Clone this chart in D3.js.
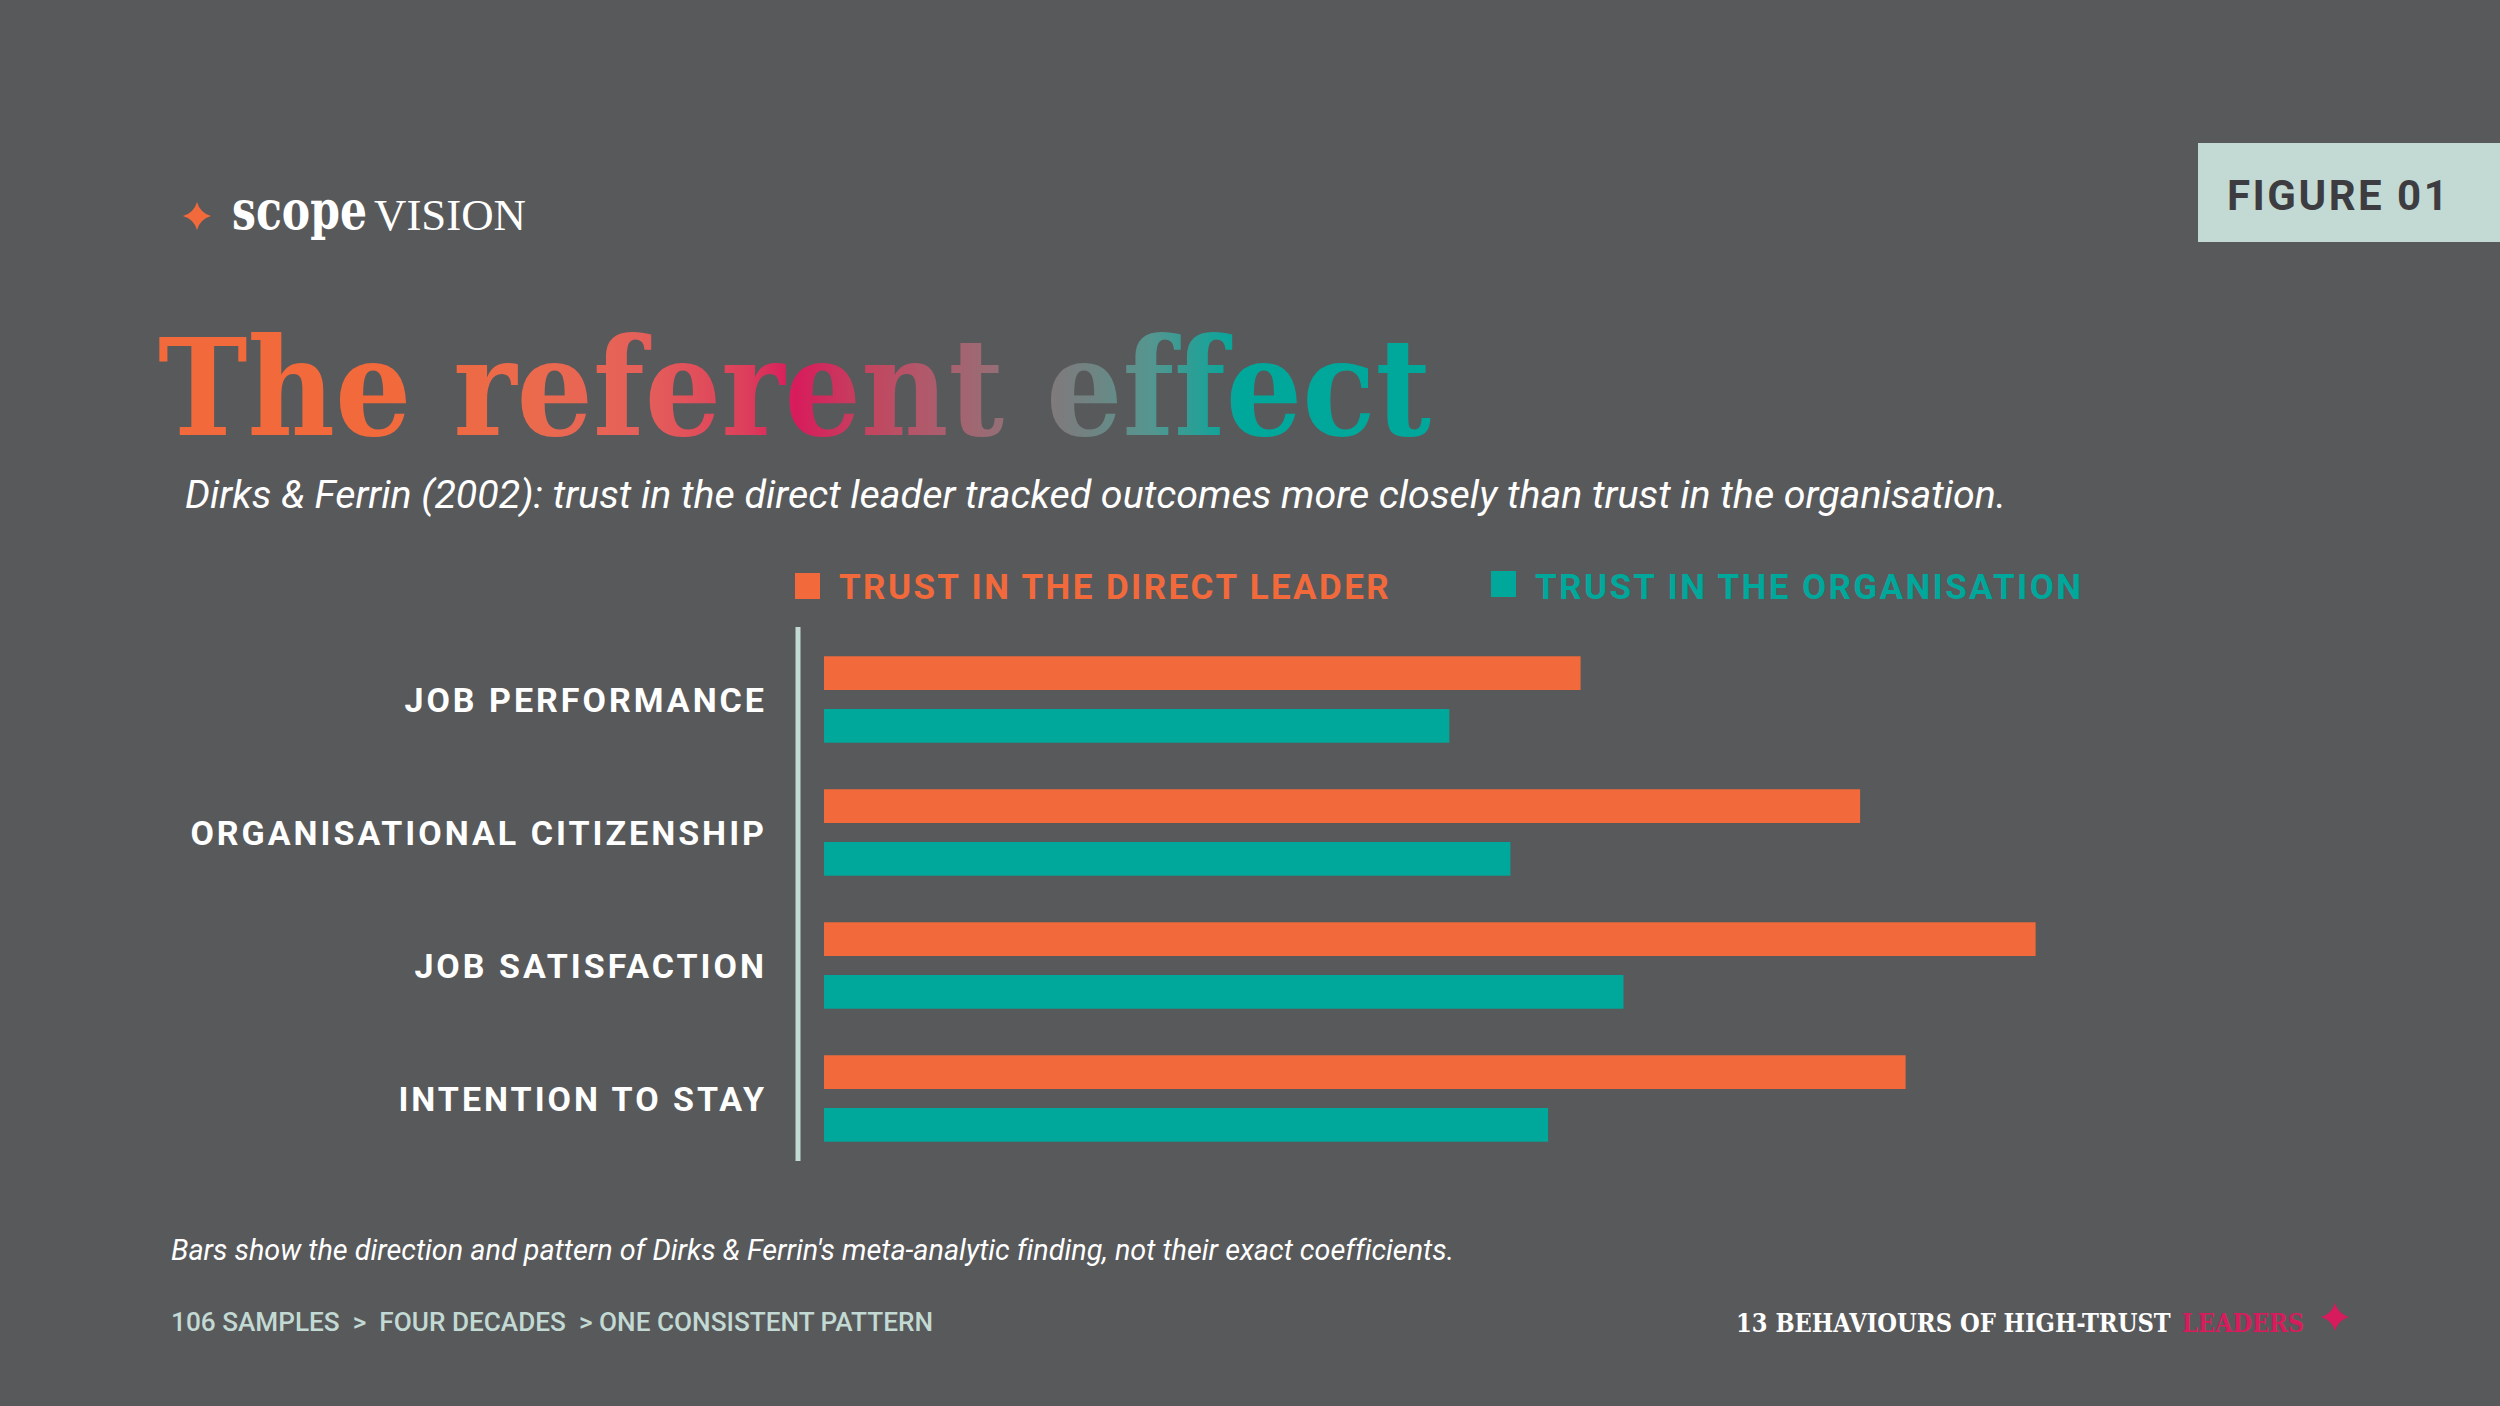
<!DOCTYPE html>
<html>
<head>
<meta charset="utf-8">
<script src="https://cdn.jsdelivr.net/npm/d3@7"></script>
<style>
  body { margin: 0; background: #58595b; }
  svg { display: block; }
  text { font-variant-ligatures: none; }
</style>
</head>
<body>
<div id="root"></div>
<script>
// chart values
const categories = [
  "JOB PERFORMANCE",
  "ORGANISATIONAL CITIZENSHIP",
  "JOB SATISFACTION",
  "INTENTION TO STAY",
];
const seriesKeys = ["leader", "org"];
const seriesNames = ["TRUST IN THE DIRECT LEADER", "TRUST IN THE ORGANISATION"];
const leaderValues = [58.2, 79.7, 93.2, 83.2];
const orgValues = [48.1, 52.8, 61.5, 55.7];

const width = 2500;
const height = 1406;
const orange = "#f26a3b";
const teal = "#00a89c";
const crimson = "#d81b5c";
const mint = "#c3dad4";
const colors = { leader: orange, org: teal };

const data = categories.map((c, i) => ({
  category: c,
  leader: leaderValues[i],
  org: orgValues[i],
}));

const svg = d3
  .select("#root")
  .append("svg")
  .attr("width", width)
  .attr("height", height)
  .attr("viewBox", `0 0 ${width} ${height}`);

svg.append("rect").attr("width", width).attr("height", height).attr("fill", "#58595b");

// squeeze a text horizontally so it spans the given width
function fit(sel, x, y, target) {
  const w = sel.node().getComputedTextLength();
  sel.attr("x", 0).attr("y", 0)
    .attr("transform", `translate(${x}, ${y}) scale(${target / w}, 1)`);
  return sel;
}

// 4-point sparkle
function sparkle(cx, cy, r) {
  const k = r * 0.22;
  return `M${cx},${cy - r}Q${cx + k},${cy - k} ${cx + r},${cy}` +
    `Q${cx + k},${cy + k} ${cx},${cy + r}` +
    `Q${cx - k},${cy + k} ${cx - r},${cy}` +
    `Q${cx - k},${cy - k} ${cx},${cy - r}Z`;
}

// logo
svg.append("path").attr("d", sparkle(197, 216, 14)).attr("fill", orange);
fit(svg.append("text")
  .text("scope")
  .attr("font-family", "'DejaVu Serif', serif")
  .attr("font-weight", 700)
  .attr("font-size", 54)
  .attr("fill", "#ffffff"), 232, 229, 135);
fit(svg.append("text")
  .text("VISION")
  .attr("font-family", "'Liberation Serif', serif")
  .attr("font-size", 44)
  .attr("fill", "#ffffff"), 374, 230, 152);

// figure tag
svg.append("rect")
  .attr("x", 2198).attr("y", 143)
  .attr("width", 302).attr("height", 99)
  .attr("fill", mint);
svg.append("text")
  .text("FIGURE 01")
  .attr("x", 2227).attr("y", 210)
  .attr("font-family", "Roboto, sans-serif")
  .attr("font-weight", 700)
  .attr("font-size", 42)
  .attr("letter-spacing", 2.5)
  .attr("fill", "#3d3d41");

// title with gradient
const defs = svg.append("defs");
const grad = defs.append("linearGradient")
  .attr("id", "titleGrad")
  .attr("gradientUnits", "userSpaceOnUse")
  .attr("x1", 158).attr("x2", 1431)
  .attr("y1", 0).attr("y2", 0);
[
  [0, orange], [0.18, orange], [0.3, "#ea6a4e"], [0.38, "#e5605a"],
  [0.46, "#dd405b"], [0.5, crimson], [0.56, "#c2465f"], [0.6, "#b2586b"],
  [0.65, "#9b6b74"], [0.72, "#777f7f"], [0.78, "#559690"], [0.85, teal], [1, teal],
].forEach(([o, c]) => grad.append("stop").attr("offset", o).attr("stop-color", c));

svg.append("text")
  .text("The referent effect")
  .attr("x", 158).attr("y", 435)
  .attr("font-family", "'DejaVu Serif Condensed', 'DejaVu Serif', serif")
  .attr("font-weight", 700)
  .attr("font-size", 134)
  .attr("textLength", 1273)
  .attr("lengthAdjust", "spacingAndGlyphs")
  .attr("fill", "url(#titleGrad)");

svg.append("text")
  .text("Dirks & Ferrin (2002): trust in the direct leader tracked outcomes more closely than trust in the organisation.")
  .attr("x", 185).attr("y", 508)
  .attr("font-family", "Roboto, sans-serif")
  .attr("font-style", "italic")
  .attr("font-size", 39)
  .attr("textLength", 1821)
  .attr("lengthAdjust", "spacingAndGlyphs")
  .attr("fill", "#ffffff");

// legend
const legendX = [795, 1491];
const legend = svg.selectAll("g.legend")
  .data(seriesKeys)
  .join("g")
  .attr("class", "legend")
  .attr("transform", (d, i) => `translate(${legendX[i]}, 573)`);
legend.append("rect")
  .attr("width", 25).attr("height", 26)
  .attr("y", (d, i) => -i * 2)
  .attr("fill", (d) => colors[d]);
legend.append("text")
  .text((d, i) => seriesNames[i])
  .attr("x", 44).attr("y", 26)
  .attr("font-family", "Roboto, sans-serif")
  .attr("font-weight", 700)
  .attr("font-size", 35)
  .attr("letter-spacing", 2.4)
  .attr("fill", (d) => colors[d]);

// scales
const xScale = d3.scaleLinear().domain([0, 100]).range([824, 2124]);
const yScale = d3.scaleBand()
  .domain(categories)
  .range([633, 1165])
  .paddingInner(0.35)
  .paddingOuter(0.175);
const ySub = d3.scaleBand()
  .domain(seriesKeys)
  .range([0, yScale.bandwidth()])
  .paddingInner(0.36);

// bars
const groups = svg.selectAll("g.group")
  .data(data)
  .join("g")
  .attr("class", "group")
  .attr("transform", (d) => `translate(0, ${yScale(d.category)})`);
groups.selectAll("rect")
  .data((d) => seriesKeys.map((k) => ({ key: k, value: d[k] })))
  .join("rect")
  .attr("x", xScale(0))
  .attr("y", (d) => ySub(d.key))
  .attr("width", (d) => xScale(d.value) - xScale(0))
  .attr("height", ySub.bandwidth())
  .attr("fill", (d) => colors[d.key]);

// category axis
const axis = svg.append("g")
  .attr("transform", "translate(798, 0)")
  .call(d3.axisLeft(yScale).tickSize(0).tickPadding(31));
axis.select(".domain").remove();
axis.selectAll("text")
  .attr("font-family", "Roboto, sans-serif")
  .attr("font-weight", 700)
  .attr("font-size", 34)
  .attr("letter-spacing", 3)
  .attr("fill", "#ffffff")
  .attr("dy", "0.36em");
svg.append("line")
  .attr("x1", 798).attr("x2", 798)
  .attr("y1", 627).attr("y2", 1161)
  .attr("stroke", mint)
  .attr("stroke-width", 5);

// footnotes
svg.append("text")
  .text("Bars show the direction and pattern of Dirks & Ferrin's meta-analytic finding, not their exact coefficients.")
  .attr("x", 171).attr("y", 1260)
  .attr("font-family", "Roboto, sans-serif")
  .attr("font-style", "italic")
  .attr("font-size", 29)
  .attr("textLength", 1283)
  .attr("lengthAdjust", "spacingAndGlyphs")
  .attr("fill", "#ffffff");

svg.append("text")
  .text("106 SAMPLES  >  FOUR DECADES  > ONE CONSISTENT PATTERN")
  .attr("x", 171).attr("y", 1331)
  .style("white-space", "pre")
  .attr("font-family", "Roboto, sans-serif")
  .attr("font-weight", 500)
  .attr("font-size", 25)
  .attr("textLength", 762)
  .attr("lengthAdjust", "spacingAndGlyphs")
  .attr("fill", mint);

fit(svg.append("text")
  .text("13 BEHAVIOURS OF HIGH-TRUST")
  .attr("font-family", "'DejaVu Serif', serif")
  .attr("font-weight", 700)
  .attr("font-size", 26)
  .attr("fill", "#ffffff"), 1736, 1332, 435);
fit(svg.append("text")
  .text("LEADERS")
  .attr("font-family", "'DejaVu Serif', serif")
  .attr("font-weight", 700)
  .attr("font-size", 26)
  .attr("fill", crimson), 2182, 1332, 122);
svg.append("path").attr("d", sparkle(2335, 1317, 14)).attr("fill", crimson);
</script>
</body>
</html>
